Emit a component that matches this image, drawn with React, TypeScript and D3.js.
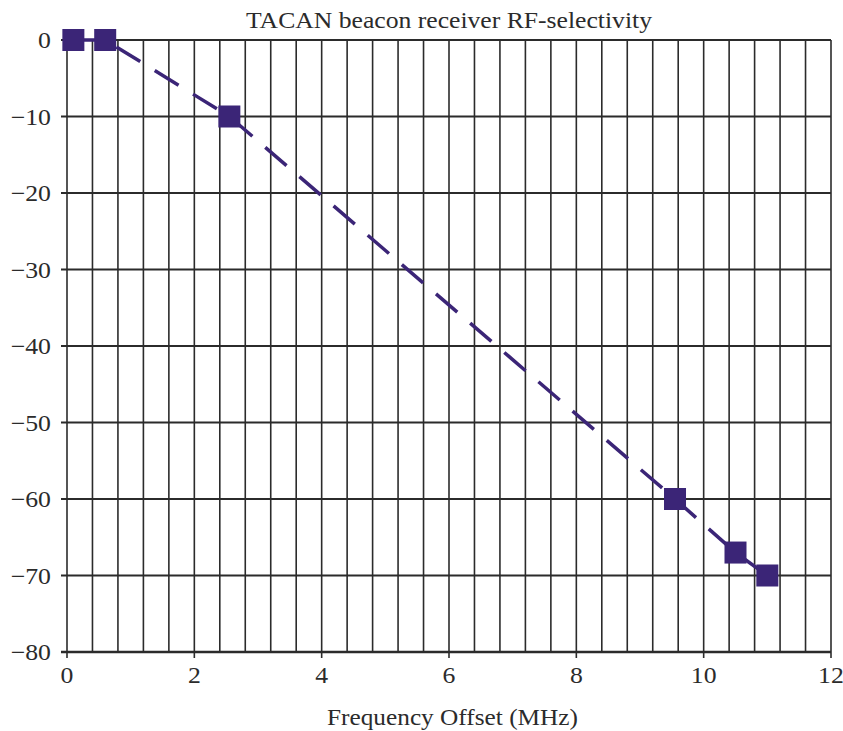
import * as d3 from 'd3';
import { useEffect, useRef } from 'react';

// chart data
const freqOffset = [0.1, 0.6, 2.55, 9.55, 10.5, 11.0];
const attenuation = [0, 0, -10, -60, -67, -70];
const xTicks = [0, 2, 4, 6, 8, 10, 12];
const yTicks = [0, -10, -20, -30, -40, -50, -60, -70, -80];
const title = 'TACAN beacon receiver RF-selectivity';
const xLabel = 'Frequency Offset (MHz)';

export default function App() {
  const svgRef = useRef<SVGSVGElement | null>(null);

  useEffect(() => {
    if (!svgRef.current) return;
    const width = 843;
    const height = 731;
    const margin = { top: 40, right: 12, bottom: 79, left: 67 };
    const font = '"Liberation Serif", "Times New Roman", serif';
    const ink = '#2b2b2b';
    const purple = '#3b2577';

    const svg = d3.select(svgRef.current)
      .attr('width', width)
      .attr('height', height)
      .style('display', 'block');
    svg.selectAll('*').remove();

    const x = d3.scaleLinear().domain([0, 12]).range([margin.left, width - margin.right]);
    const y = d3.scaleLinear().domain([0, -80]).range([margin.top, height - margin.bottom]);

    // vertical grid every 0.4 MHz
    const vGrid = d3.range(0, 12.001, 0.4);
    svg.append('g')
      .selectAll('line')
      .data(vGrid)
      .join('line')
      .attr('x1', d => x(d)).attr('x2', d => x(d))
      .attr('y1', y(0)).attr('y2', y(-80))
      .attr('stroke', ink)
      .attr('stroke-width', 1.6);

    // horizontal grid
    svg.append('g')
      .selectAll('line')
      .data(yTicks)
      .join('line')
      .attr('x1', x(0) - 6).attr('x2', x(12))
      .attr('y1', d => y(d)).attr('y2', d => y(d))
      .attr('stroke', ink)
      .attr('stroke-width', d => (d === -80 ? 2.4 : 1.8));

    // x tick marks
    svg.append('g')
      .selectAll('line')
      .data(xTicks)
      .join('line')
      .attr('x1', d => x(d)).attr('x2', d => x(d))
      .attr('y1', y(-80)).attr('y2', y(-80) + 6)
      .attr('stroke', ink)
      .attr('stroke-width', 1.6);

    // tick labels (glyphs in the original are set wide)
    svg.append('g')
      .selectAll('text')
      .data(yTicks)
      .join('text')
      .attr('x', x(0) - 16)
      .attr('y', d => y(d))
      .attr('dy', '0.35em')
      .attr('text-anchor', 'end')
      .attr('font-family', font)
      .attr('font-size', 23)
      .attr('fill', ink)
      .attr('transform', d => `translate(${x(0) - 16},${y(d)}) scale(1.12,1) translate(${-(x(0) - 16)},${-y(d)})`)
      .text(d => (d < 0 ? '\u2212' + Math.abs(d) : String(d)));

    svg.append('g')
      .selectAll('text')
      .data(xTicks)
      .join('text')
      .attr('x', d => x(d))
      .attr('y', y(-80) + 31)
      .attr('text-anchor', 'middle')
      .attr('font-family', font)
      .attr('font-size', 23)
      .attr('fill', ink)
      .attr('transform', d => `translate(${x(d)},0) scale(1.12,1) translate(${-x(d)},0)`)
      .text(d => String(d));

    // title and axis label
    const cx = (x(0) + x(12)) / 2;
    svg.append('text')
      .attr('x', cx - 203)
      .attr('y', 28)
      .attr('textLength', 406)
      .attr('lengthAdjust', 'spacingAndGlyphs')
      .attr('font-family', font)
      .attr('font-size', 23)
      .attr('fill', ink)
      .text(title);

    svg.append('text')
      .attr('x', 327)
      .attr('y', 725)
      .attr('textLength', 251)
      .attr('lengthAdjust', 'spacingAndGlyphs')
      .attr('font-family', font)
      .attr('font-size', 23)
      .attr('fill', ink)
      .text(xLabel);

    const pts = freqOffset.map((f, i) => [f, attenuation[i]] as [number, number]);

    const line = d3.line<[number, number]>()
      .x(d => x(d[0]))
      .y(d => y(d[1]));

    svg.append('path')
      .datum(pts)
      .attr('fill', 'none')
      .attr('stroke', purple)
      .attr('stroke-width', 3.5)
      .attr('stroke-dasharray', '28,17')
      .attr('d', line);

    const size = 22;
    svg.append('g')
      .selectAll('rect')
      .data(pts)
      .join('rect')
      .attr('x', d => x(d[0]) - size / 2)
      .attr('y', d => y(d[1]) - size / 2)
      .attr('width', size)
      .attr('height', size)
      .attr('fill', purple);
  }, []);

  return (
    <div style={{ position: 'absolute', left: 0, top: 0 }}>
      <svg ref={svgRef}></svg>
    </div>
  );
}
